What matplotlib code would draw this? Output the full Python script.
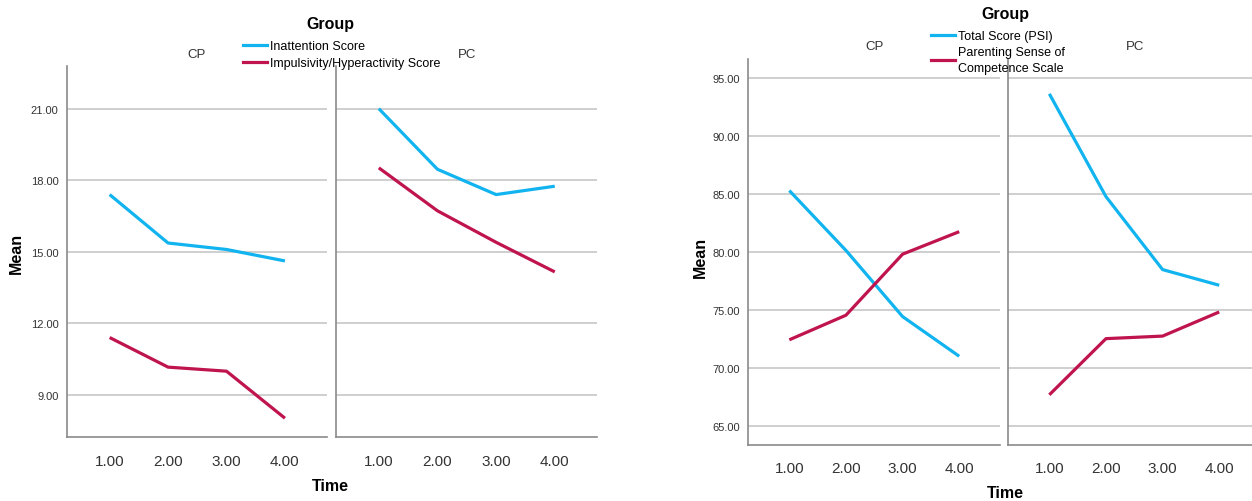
import matplotlib
matplotlib.use("Agg")
import matplotlib.pyplot as plt
from matplotlib.lines import Line2D

plt.rcParams["font.family"] = ["Liberation Sans Narrow", "Liberation Sans", "DejaVu Sans"]

# Data
time = [1, 2, 3, 4]
time_labels = ["1.00", "2.00", "3.00", "4.00"]
groups = ["CP", "PC"]

inattention = {"CP": [17.40, 15.37, 15.10, 14.62], "PC": [21.00, 18.46, 17.40, 17.75]}
impulsivity = {"CP": [11.41, 10.17, 10.00, 8.03], "PC": [18.52, 16.72, 15.40, 14.16]}
left_yticks = [9, 12, 15, 18, 21]

psi_total = {"CP": [85.26, 80.10, 74.40, 70.98], "PC": [93.60, 84.74, 78.45, 77.10]}
pscs = {"CP": [72.40, 74.52, 79.78, 81.72], "PC": [67.66, 72.50, 72.72, 74.80]}
right_yticks = [65, 70, 75, 80, 85, 90, 95]

BLUE = "#12b4f0"
RED = "#c0144f"
W, H = 1252, 502

fig = plt.figure(figsize=(W / 100, H / 100), dpi=100)


def fx(px):
    return px / W


def fy(py):
    return 1 - py / H


def make_panel(x0, x1, y0, y1, ylim, yticks, show_y, series):
    ax = fig.add_axes([fx(x0), fy(y1), fx(x1 - x0), fy(y0) - fy(y1)])
    for vals, c in series:
        ax.plot(time, vals, color=c, lw=2.3, solid_capstyle="butt", zorder=3)
    ax.set_xlim(0.27, 4.72)
    ax.set_ylim(*ylim)
    ax.set_yticks(yticks)
    ax.set_yticklabels([f"{v:.2f}" for v in yticks] if show_y else [])
    ax.set_xticks(time)
    ax.set_xticklabels(time_labels)
    ax.grid(axis="y", color="#cfcfcf", lw=1.4, zorder=0)
    for s in ["top", "right"]:
        ax.spines[s].set_visible(False)
    for s in ["left", "bottom"]:
        ax.spines[s].set_color("#8a8a8a")
        ax.spines[s].set_linewidth(1.2)
    ax.tick_params(length=0)
    ax.tick_params(axis="y", labelsize=8, pad=6, colors="#333333")
    ax.tick_params(axis="x", labelsize=11, pad=12, colors="#333333")
    return ax


# Left chart: ADHD scores
for i, g in enumerate(groups):
    x0, x1 = [(67, 327), (336, 597)][i]
    make_panel(x0, x1, 66.7, 438.3, (7.23, 22.8), left_yticks, i == 0,
               [(inattention[g], BLUE), (impulsivity[g], RED)])
fig.text(fx(197), fy(55), "CP", ha="center", va="center", fontsize=9.5, color="#333333")
fig.text(fx(467), fy(55), "PC", ha="center", va="center", fontsize=9.5, color="#333333")
fig.text(fx(330), fy(24), "Group", ha="center", va="center", fontsize=11.5, fontweight="bold")
fig.text(fx(330), fy(487), "Time", ha="center", va="center", fontsize=11.5, fontweight="bold")
fig.text(fx(16), fy(253), "Mean", ha="center", va="center", rotation=90, fontsize=11.5, fontweight="bold")
h1 = [Line2D([], [], color=BLUE, lw=2.3), Line2D([], [], color=RED, lw=2.3)]
fig.legend(h1, ["Inattention Score", "Impulsivity/Hyperactivity Score"],
           loc="upper left", bbox_to_anchor=(fx(243), fy(41)), frameon=False,
           fontsize=9, handlelength=1.9, handletextpad=0.3, labelspacing=0.4,
           borderpad=0, borderaxespad=0)

# Right chart: parenting scores
for i, g in enumerate(groups):
    x0, x1 = [(748, 1000), (1008, 1260)][i]
    make_panel(x0, x1, 60, 445.7, (63.36, 96.6), right_yticks, i == 0,
               [(psi_total[g], BLUE), (pscs[g], RED)])
fig.text(fx(875), fy(47), "CP", ha="center", va="center", fontsize=9.5, color="#333333")
fig.text(fx(1135), fy(47), "PC", ha="center", va="center", fontsize=9.5, color="#333333")
fig.text(fx(1005), fy(15), "Group", ha="center", va="center", fontsize=11.5, fontweight="bold")
fig.text(fx(1005), fy(494), "Time", ha="center", va="center", fontsize=11.5, fontweight="bold")
fig.text(fx(700), fy(257), "Mean", ha="center", va="center", rotation=90, fontsize=11.5, fontweight="bold")
h2 = [Line2D([], [], color=BLUE, lw=2.3), Line2D([], [], color=RED, lw=2.3)]
leg2 = fig.legend(h2, ["Total Score (PSI)", "Parenting Sense of\nCompetence Scale"],
                  loc="upper left", bbox_to_anchor=(fx(931), fy(31)), frameon=False,
                  fontsize=9, handlelength=1.9, handletextpad=0.3, labelspacing=0.35,
                  borderpad=0, borderaxespad=0)
for t in leg2.get_texts():
    t.set_linespacing(1.35)

fig.savefig("out.png", dpi=100)
